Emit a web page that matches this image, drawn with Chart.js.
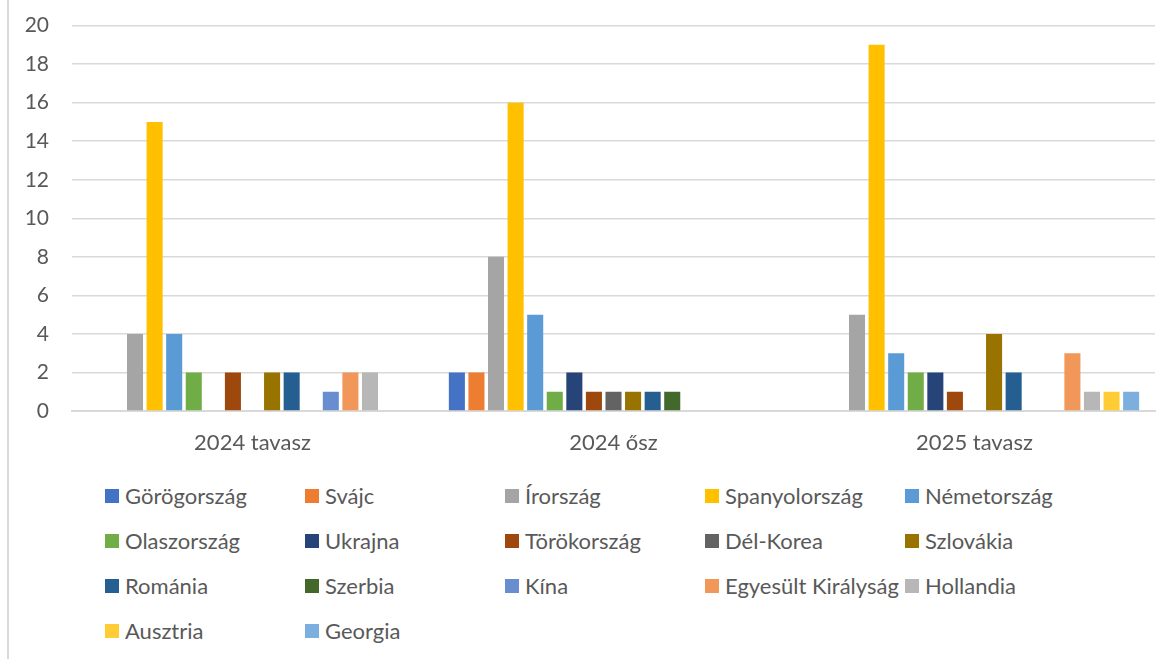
<!DOCTYPE html>
<html>
<head>
<meta charset="utf-8">
<script src="https://cdn.jsdelivr.net/npm/chart.js@4.4.1/dist/chart.umd.min.js"></script>
<style>
  body { margin: 0; background: #fff; }
  #wrap { position: relative; width: 1173px; height: 659px; overflow: hidden; }
  #frame { position: absolute; left: 7px; top: 0; width: 2px; height: 659px; background: #d9d9d9; }
  #box { position: absolute; left: 0; top: -10px; width: 1173px; height: 480px; }
  #legend {
    position: absolute; left: 105px; top: 473px;
    display: grid; grid-template-columns: repeat(5, 200px); grid-auto-rows: 45px;
    font-family: Lato, 'Open Sans', sans-serif; font-size: 22px; color: #595959;
  }
  .item { display: flex; align-items: center; white-space: nowrap; }
  .sw { width: 14px; height: 14px; margin-right: 6px; flex: none; }
</style>
</head>
<body>
<div id="wrap">
  <div id="frame"></div>
  <div id="box"><canvas id="chart"></canvas></div>
  <div id="legend"></div>
</div>
<script>
// categories
const periods = ['2024 tavasz', '2024 ősz', '2025 tavasz'];

// countries and values per period
const countries = ['Görögország', 'Svájc', 'Írország', 'Spanyolország', 'Németország',
  'Olaszország', 'Ukrajna', 'Törökország', 'Dél-Korea', 'Szlovákia',
  'Románia', 'Szerbia', 'Kína', 'Egyesült Királyság', 'Hollandia', 'Ausztria', 'Georgia'];

const gorogorszag   = [0, 2, 0];
const svajc         = [0, 2, 0];
const irorszag      = [4, 8, 5];
const spanyol       = [15, 16, 19];
const nemet         = [4, 5, 3];
const olasz         = [2, 1, 2];
const ukrajna       = [0, 2, 2];
const torok         = [2, 1, 1];
const delKorea      = [0, 1, 0];
const szlovakia     = [2, 1, 4];
const romania       = [2, 1, 2];
const szerbia       = [0, 1, 0];
const kina          = [1, 0, 0];
const egyesultKir   = [2, 0, 3];
const hollandia     = [2, 0, 1];
const ausztria      = [0, 0, 1];
const georgia       = [0, 0, 1];

const yTicks = [0, 2, 4, 6, 8, 10, 12, 14, 16, 18, 20];

const series = [gorogorszag, svajc, irorszag, spanyol, nemet, olasz, ukrajna, torok,
  delKorea, szlovakia, romania, szerbia, kina, egyesultKir, hollandia, ausztria, georgia];

const colors = ['#4472C4', '#ED7D31', '#A5A5A5', '#FFC000', '#5B9BD5', '#70AD47', '#264478',
  '#9E480E', '#636363', '#997300', '#255E91', '#43682B', '#698ED0', '#F1975A', '#B7B7B7',
  '#FFCD33', '#7CAFDD'];

const fontFamily = "Lato, 'Open Sans', sans-serif";
const textColor = '#595959';
const gridColor = '#d9d9d9';

const datasets = countries.map((name, i) => ({
  label: name,
  data: series[i],
  backgroundColor: colors[i],
  borderWidth: 0,
  categoryPercentage: 0.922,
  barPercentage: 0.82
}));

const ctx = document.getElementById('chart').getContext('2d');
const chart = new Chart(ctx, {
  type: 'bar',
  data: { labels: periods, datasets: datasets },
  options: {
    responsive: true,
    maintainAspectRatio: false,
    animation: false,
    layout: { padding: { left: 0, right: 18, top: 14, bottom: 0 } },
    plugins: {
      legend: { display: false },
      tooltip: { enabled: false }
    },
    scales: {
      x: {
        grid: { display: false, drawTicks: false },
        border: { display: true, color: gridColor, width: 2 },
        ticks: { color: textColor, font: { family: fontFamily, size: 22 }, padding: 19 },
        afterFit: (scale) => { scale.height = 59; }
      },
      y: {
        min: 0,
        max: 20,
        afterBuildTicks: (scale) => { scale.ticks = yTicks.map(v => ({ value: v })); },
        grid: { color: gridColor, lineWidth: 1.5, drawTicks: false },
        border: { display: false },
        ticks: { color: textColor, font: { family: fontFamily, size: 21 }, padding: 23 },
        afterFit: (scale) => { scale.width = 72; }
      }
    }
  }
});

// legend in five fixed columns, built from the chart's own legend items
const legendEl = document.getElementById('legend');
Chart.defaults.plugins.legend.labels.generateLabels(chart).forEach(item => {
  const div = document.createElement('div');
  div.className = 'item';
  const sw = document.createElement('span');
  sw.className = 'sw';
  sw.style.background = item.fillStyle;
  const txt = document.createElement('span');
  txt.textContent = item.text;
  div.appendChild(sw);
  div.appendChild(txt);
  legendEl.appendChild(div);
});
</script>
</body>
</html>
